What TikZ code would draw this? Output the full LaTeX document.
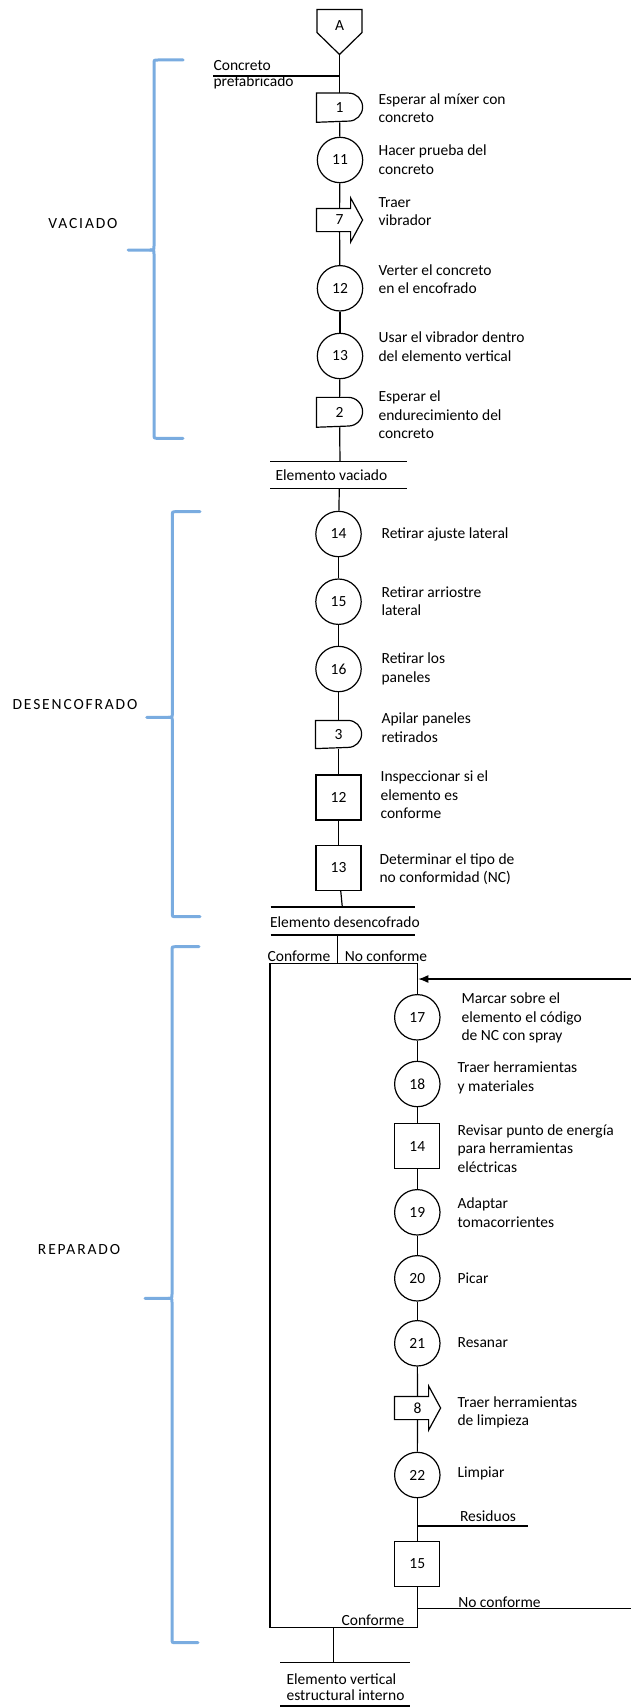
\documentclass[tikz,border=0pt]{standalone}
\usepackage{fontspec}
\setmainfont{Carlito}
\usetikzlibrary{arrows.meta,calc}
\definecolor{bracecol}{RGB}{122,172,224}
\newcommand\delayoutline[1]{\draw (#1.north west) -- ($(#1.north east)+(-14,0)$) arc[start angle=90,end angle=-90,radius=14pt] -- (#1.south west) -- cycle;}
\newcommand\transpoutline[1]{\draw (#1.north west) -- ($(#1.north east)+(-12,0)$) -- ++(0,-10.5) -- (#1.east) -- ($(#1.south east)+(-12,10.5)$) -- ++(0,-10.5) -- (#1.south west) -- cycle;}
\begin{document}
\begin{tikzpicture}[x=1pt,y=-1pt,line width=1.2pt,
  every node/.style={font=\fontsize{15.5}{18.5}\selectfont},
  num/.style={font=\fontsize{15.5}{17}\selectfont,inner sep=0pt},
  circ/.style={circle,draw,minimum size=45.4pt,num},
  sq/.style={rectangle,draw,minimum width=45pt,minimum height=45pt,num},
  dly/.style={rectangle,minimum width=45pt,minimum height=28pt,num},
  trn/.style={rectangle,minimum width=45pt,minimum height=22pt,num},
  lbl/.style={anchor=west,align=left,inner sep=0pt},
  txt/.style={inner sep=0pt},
  phase/.style={inner sep=0pt,font=\fontsize{15.5}{18.5}\selectfont\addfontfeature{LetterSpace=12}},
  brace/.style={draw=bracecol,line width=3pt,line cap=round}]
\useasboundingbox (0,0) rectangle (631,1707);

% ---------- brackets ----------
\draw[brace] (183,60) -- (158,60) .. controls (154,60) .. (154,64) -- (154,246) .. controls (154,250) .. (150,250) -- (128,250);
\draw[brace] (150,250) .. controls (154,250) .. (154,254) -- (154,434) .. controls (154,438.3) .. (158,438.3) -- (183,438.3);
\draw[brace] (200,511.7) -- (176.3,511.7) .. controls (172.3,511.7) .. (172.3,515.7) -- (172.3,713.3) .. controls (172.3,717.3) .. (168.3,717.3) -- (146.7,717.3);
\draw[brace] (168.3,717.3) .. controls (172.3,717.3) .. (172.3,721.3) -- (172.3,912.7) .. controls (172.3,916.7) .. (176.3,916.7) -- (200,916.7);
\draw[brace] (199,946.7) -- (176,946.7) .. controls (172,946.7) .. (172,950.7) -- (172,1294.3) .. controls (172,1298.3) .. (168,1298.3) -- (145,1298.3);
\draw[brace] (168,1298.3) .. controls (172,1298.3) .. (172,1302.3) -- (172,1638.7) .. controls (172,1642.7) .. (176,1642.7) -- (198,1642.7);

\node[phase] (pv) at (83,223.3) {VACIADO};
\node[phase] (pd) at (75,705) {DESENCOFRADO};
\node[phase] (pr) at (79,1250) {REPARADO};

% ---------- VACIADO ----------
\node[num,minimum width=45pt,minimum height=20pt] (A) at (339.5,26) {A};
\draw ($(A)+(-22.5,-16.5)$) -- ($(A)+(22.5,-16.5)$) -- ($(A)+(22.5,6.5)$) -- ($(A)+(0,28.5)$) -- ($(A)+(-22.5,6.5)$) -- cycle;
\coordinate (Ap) at ($(A)+(0,28.5)$);

\coordinate (cpa) at (213,76);
\coordinate (cpb) at (340,76);
\node[txt,anchor=base west] (cpt1) at (213,70.5) {Concreto};
\node[txt,anchor=base west] (cpt2) at (213,87) {prefabricado};

\node[dly] (d1) at (339.5,107.7) {1};
\delayoutline{d1}
\node[circ] (c11) at (340,160) {11};
\node[trn] (t7) at (339.5,220) {7};
\transpoutline{t7}
\node[circ] (c12) at (340,288.3) {12};
\node[circ] (c13) at (340,356) {13};
\node[dly,minimum height=28.7pt] (d2) at (339.5,412.3) {2};
\draw (d2.north west) -- ($(d2.north east)+(-14.35,0)$) arc[start angle=90,end angle=-90,radius=14.35pt] -- (d2.south west) -- cycle;

\draw (Ap) -- (d1);
\draw (cpa) -- (cpb);
\draw (d1) -- (c11);
\draw (c11) -- (t7);
\draw (t7) -- (c12);
\draw (c12) -- (c13);
\draw (c13) -- (d2);

\node[lbl] (l1) at (378,108) {Esperar al míxer con\\concreto};
\node[lbl] (l2) at (378,159.5) {Hacer prueba del\\concreto};
\node[lbl] (l3) at (378,211.5) {Traer\\vibrador};
\node[lbl] (l4) at (378,279) {Verter el concreto\\en el encofrado};
\node[lbl] (l5) at (378,346.5) {Usar el vibrador dentro\\del elemento vertical};
\node[lbl] (l6) at (378,414.7) {Esperar el\\endurecimiento del\\concreto};

% Elemento vaciado
\coordinate (ev1a) at (270,461.7);
\coordinate (ev1b) at (407,461.7);
\coordinate (ev2a) at (270,488.3);
\coordinate (ev2b) at (407,488.3);
\coordinate (evj1) at (340,461.7);
\coordinate (evj2) at (339.3,488.3);
\draw (ev1a) -- (ev1b);
\draw (ev2a) -- (ev2b);
\node[txt,anchor=base west] (evt) at (275,480.5) {Elemento vaciado};
\draw (d2) -- (evj1);

% ---------- DESENCOFRADO ----------
\node[circ] (c14) at (338.5,534) {14};
\node[circ] (c15) at (338.5,601.7) {15};
\node[circ] (c16) at (338.5,669) {16};
\node[dly,minimum height=27pt] (d3) at (338.5,734.5) {3};
\draw (d3.north west) -- ($(d3.north east)+(-13.5,0)$) arc[start angle=90,end angle=-90,radius=13.5pt] -- (d3.south west) -- cycle;
\node[sq] (s12) at (338.5,797.5) {12};
\node[sq] (s13) at (338.5,868) {13};

\draw (evj2) -- (c14);
\draw (c14) -- (c15);
\draw (c15) -- (c16);
\draw (c16) -- (d3);
\draw (d3) -- (s12);
\draw (s12) -- (s13);

\node[lbl] (l7) at (381,534) {Retirar ajuste lateral};
\node[lbl] (l8) at (381,601) {Retirar arriostre\\lateral};
\node[lbl] (l9) at (381,669) {Retirar los\\paneles};
\node[lbl] (l10) at (381,727.5) {Apilar paneles\\retirados};
\node[lbl] (l11) at (380,795) {Inspeccionar si el\\elemento es\\conforme};
\node[lbl] (l12) at (379,869) {Determinar el tipo de\\no conformidad (NC)};

% Elemento desencofrado
\coordinate (ed1a) at (270.7,907);
\coordinate (ed1b) at (415,907);
\coordinate (ed2a) at (270.7,935);
\coordinate (ed2b) at (415,935);
\coordinate (edj1) at (342.3,907);
\coordinate (edj2) at (337.7,935);
\coordinate (edj3) at (337.7,963.3);
\draw (ed1a) -- (ed1b);
\draw (ed2a) -- (ed2b);
\node[txt,anchor=base west] (edt) at (269.5,927) {Elemento desencofrado};
\draw (s13) -- (edj1);
\draw (edj2) -- (edj3);

\node[txt,anchor=base] (conf1) at (299,961.5) {Conforme};
\node[txt,anchor=base] (nconf1) at (386,961.5) {No conforme};

% ---------- REPARADO ----------
\coordinate (btl) at (270,963.3);
\coordinate (btr) at (417.3,963.3);
\coordinate (bbl) at (270,1627.7);
\coordinate (bbr) at (417.3,1627.7);
\draw (btl) -- (btr);
\draw (btl) -- (bbl) -- (bbr);

\node[circ] (c17) at (417.3,1017.3) {17};
\node[circ] (c18) at (417.3,1084) {18};
\node[sq] (s14) at (417.3,1146) {14};
\node[circ] (c19) at (417.3,1212.3) {19};
\node[circ] (c20) at (417.3,1278.3) {20};
\node[circ] (c21) at (417.3,1343.3) {21};
\node[trn] (t8) at (417.5,1408) {8};
\transpoutline{t8}
\node[circ] (c22) at (417.3,1475) {22};
\node[sq] (s15) at (417.3,1564) {15};

\draw (btr) -- (c17);
\draw (c17) -- (c18);
\draw (c18) -- (s14);
\draw (s14) -- (c19);
\draw (c19) -- (c20);
\draw (c20) -- (c21);
\draw (c21) -- (t8);
\draw (t8) -- (c22);
\draw (c22) -- (s15);
\draw (s15) -- (bbr);

\node[lbl] (l13) at (461,1018.3) {Marcar sobre el\\elemento el código\\de NC con spray};
\node[lbl] (l14) at (457,1078) {Traer herramientas\\y materiales};
\node[lbl] (l15) at (457,1148.3) {Revisar punto de energía\\para herramientas\\eléctricas};
\node[lbl] (l16) at (457,1212.5) {Adaptar\\tomacorrientes};
\node[lbl] (l17) at (457,1278) {Picar};
\node[lbl] (l18) at (457,1343) {Resanar};
\node[lbl] (l19) at (457,1412.5) {Traer herramientas\\de limpieza};
\node[lbl] (l20) at (457,1473) {Limpiar};

% Residuos
\coordinate (resa) at (417.3,1526);
\coordinate (resb) at (528,1526);
\draw (resa) -- (resb);
\node[txt,anchor=base] (rest) at (488,1521) {Residuos};

% No conforme loop back
\coordinate (nca) at (417.3,1608.3);
\coordinate (ncb) at (633,1608.3);
\coordinate (ncc) at (633,979);
\coordinate (ncd) at (418.3,979);
\draw[-{Latex[length=10pt,width=8pt]}] (nca) -- (ncb) -- (ncc) -- (ncd);
\node[txt,anchor=base] (nct) at (499.5,1607) {No conforme};
\node[txt,anchor=base] (conf2) at (373,1625.5) {Conforme};

% Final output
\coordinate (fo1) at (333.3,1627.7);
\coordinate (fo2) at (333.3,1662.3);
\coordinate (fl1a) at (280,1662.3);
\coordinate (fl1b) at (410,1662.3);
\coordinate (fl2a) at (280,1706);
\coordinate (fl2b) at (410,1706);
\draw (fo1) -- (fo2);
\draw (fl1a) -- (fl1b);
\draw (fl2a) -- (fl2b);
\node[txt,anchor=base west] (fot1) at (286,1684) {Elemento vertical};
\node[txt,anchor=base west] (fot2) at (286,1700.7) {estructural interno};
\end{tikzpicture}
\end{document}
